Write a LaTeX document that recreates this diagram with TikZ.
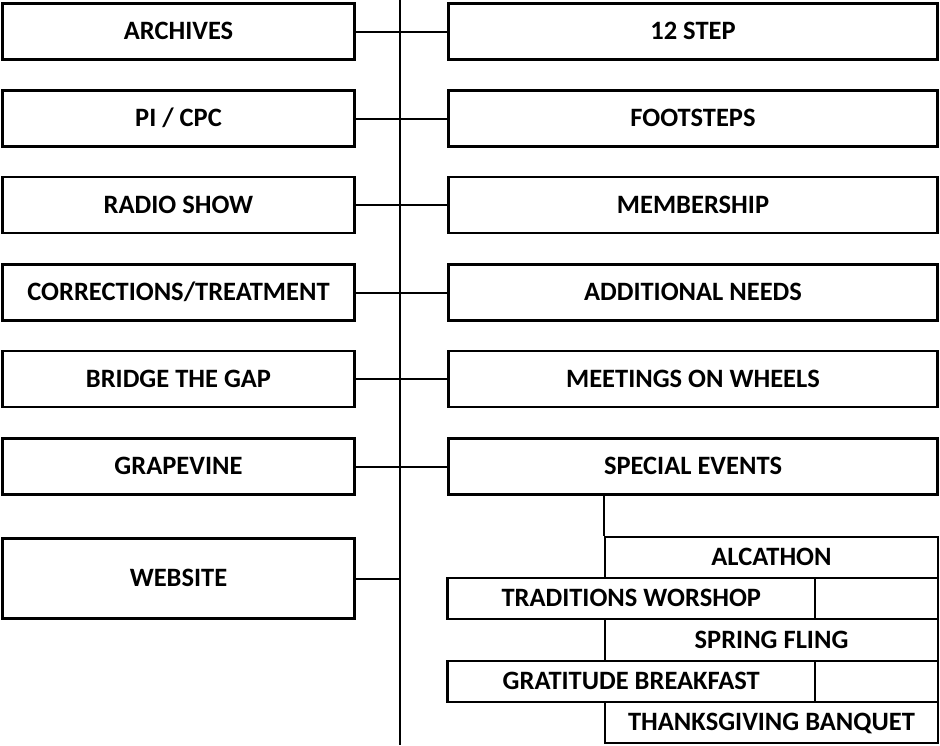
\documentclass[tikz,border=0pt]{standalone}
\usepackage{fontspec}
\setmainfont{Carlito}
\begin{document}
\begin{tikzpicture}[x=1pt,y=-1pt,
  box/.style={draw=black, line width=2.6pt, fill=white, inner sep=0pt,
    font=\fontsize{26.5}{30}\selectfont\bfseries, text height=16.7pt, text depth=0pt},
  lbox/.style={box, minimum width=352pt, minimum height=56pt},
  rbox/.style={box, minimum width=489pt, minimum height=56pt},
  conn/.style={draw=black, line width=2pt}]
\useasboundingbox (0,0) rectangle (940,745);
\coordinate (ttop) at (400,0);
\coordinate (tbot) at (400,745);
\draw[conn] (ttop) -- (tbot);
% left column
\node[lbox] (archives) at (178.5,31.5) {ARCHIVES};
\node[lbox] (picpc) at (178.5,118.5) {PI / CPC};
\node[lbox] (radio) at (178.5,205) {RADIO SHOW};
\node[lbox] (corr) at (178.5,292.5) {CORRECTIONS/TREATMENT};
\node[lbox] (bridge) at (178.5,379) {BRIDGE THE GAP};
\node[lbox] (grape) at (178.5,466.5) {GRAPEVINE};
\node[lbox, minimum height=80pt] (web) at (178.5,578.5) {WEBSITE};
% right column
\node[rbox] (step12) at (693,31.5) {12 STEP};
\node[rbox] (foot) at (693,118.5) {FOOTSTEPS};
\node[rbox] (member) at (693,205) {MEMBERSHIP};
\node[rbox] (addl) at (693,292.5) {ADDITIONAL NEEDS};
\node[rbox] (wheels) at (693,379) {MEETINGS ON WHEELS};
\node[rbox] (special) at (693,466.5) {SPECIAL EVENTS};
% connectors
\draw[conn] (archives.east) -- (step12.west);
\draw[conn] (picpc.east) -- (foot.west);
\draw[conn] (radio.east) -- (member.west);
\draw[conn] (corr.east) -- (addl.west);
\draw[conn] (bridge.east) -- (wheels.west);
\draw[conn] (grape.east) -- (special.west);
\draw[conn] (web.east) -- (web.east -| ttop);
% special events sub-boxes
\node[box, minimum width=333pt, minimum height=41pt] (alc) at (771.5,557.5) {ALCATHON};
\node[box, minimum width=367.5pt, minimum height=41pt] (trad) at (631.25,598.5) {TRADITIONS WORSHOP};
\node[box, minimum width=123pt, minimum height=41pt] (tradx) at (876.5,598.5) {};
\node[box, minimum width=333pt, minimum height=42pt] (spring) at (771.5,640) {SPRING FLING};
\node[box, minimum width=367.5pt, minimum height=41pt] (grat) at (631.25,681.5) {GRATITUDE BREAKFAST};
\node[box, minimum width=123pt, minimum height=41pt] (gratx) at (876.5,681.5) {};
\node[box, minimum width=333pt, minimum height=41pt] (thanks) at (771.5,722.5) {THANKSGIVING BANQUET};
\draw[conn] (special.south -| alc.west) -- (alc.north west);
\end{tikzpicture}
\end{document}
